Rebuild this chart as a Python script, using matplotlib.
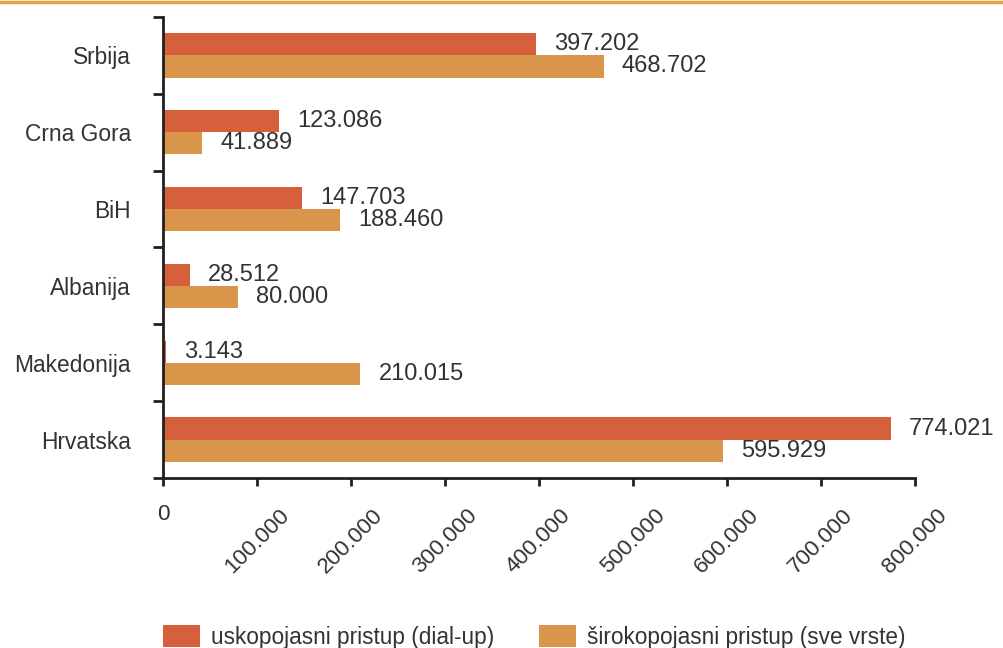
import matplotlib
matplotlib.use("Agg")
import matplotlib.pyplot as plt
from matplotlib.patches import Patch
from matplotlib.lines import Line2D
import numpy as np

categories = ["Srbija", "Crna Gora", "BiH", "Albanija", "Makedonija", "Hrvatska"]
dialup = [397202, 123086, 147703, 28512, 3143, 774021]
broadband = [468702, 41889, 188460, 80000, 210015, 595929]
dialup_labels = ["397.202", "123.086", "147.703", "28.512", "3.143", "774.021"]
broadband_labels = ["468.702", "41.889", "188.460", "80.000", "210.015", "595.929"]
xticks = [0, 100000, 200000, 300000, 400000, 500000, 600000, 700000, 800000]
xtick_labels = ["0", "100.000", "200.000", "300.000", "400.000", "500.000", "600.000", "700.000", "800.000"]
legend_labels = ["uskopojasni pristup (dial-up)", "širokopojasni pristup (sve vrste)"]

RED = "#d5603b"
ORANGE = "#d9964b"
DARK = "#231f20"
TXT = "#333333"

plt.rcParams['font.family'] = ['Liberation Sans', 'DejaVu Sans']

fig = plt.figure(figsize=(10.04, 6.48), dpi=100)
ax = fig.add_axes([163/1004, 1 - 478/648, (915-163)/1004, (478-17)/648])

n = len(categories)
y = np.arange(n)
h = 0.288
ax.barh(y - h/2, dialup, height=h, color=RED)
ax.barh(y + h/2, broadband, height=h, color=ORANGE)

for i in range(n):
    ax.annotate(dialup_labels[i], (dialup[i], y[i] - h/2), xytext=(13, 0),
                textcoords="offset points", va="center", ha="left",
                fontsize=17, color=TXT, annotation_clip=False)
    ax.annotate(broadband_labels[i], (broadband[i], y[i] + h/2), xytext=(13, 0),
                textcoords="offset points", va="center", ha="left",
                fontsize=17, color=TXT, annotation_clip=False)

ax.set_ylim(n - 0.5, -0.5)
ax.set_xlim(0, 800000)
ax.set_yticks(y)
ax.set_yticklabels(categories, fontsize=16.4, color=TXT)
ax.set_yticks(np.arange(n + 1) - 0.5, minor=True)
ax.tick_params(axis="y", which="major", length=0, pad=23)
ax.tick_params(axis="y", which="minor", length=7, width=2, color=DARK, direction="out")

ax.set_xticks(xticks)
labels = ax.set_xticklabels(xtick_labels, fontsize=16.2, color=TXT, rotation=45, ha="center", va="top")
labels[0].set_rotation(0)
ax.tick_params(axis="x", which="major", length=6, width=2, color=DARK, pad=13)

for s in ["top", "right"]:
    ax.spines[s].set_visible(False)
for s in ["left", "bottom"]:
    ax.spines[s].set_color(DARK)
    ax.spines[s].set_linewidth(2)

fig.add_artist(Line2D([0, 1], [1 - 1.5/648, 1 - 1.5/648], transform=fig.transFigure,
                      color="#e8a03a", linewidth=2.5))

handles = [Patch(facecolor=RED, edgecolor="none"), Patch(facecolor=ORANGE, edgecolor="none")]
fig.legend(handles, legend_labels, loc="center left", bbox_to_anchor=(152/1004, 1 - 637/648),
           ncol=2, frameon=False, fontsize=16.3, handlelength=1.6, handleheight=1.1,
           handletextpad=0.5, columnspacing=2.0, labelcolor=TXT, borderpad=0)

fig.savefig("out.png", dpi=100)
